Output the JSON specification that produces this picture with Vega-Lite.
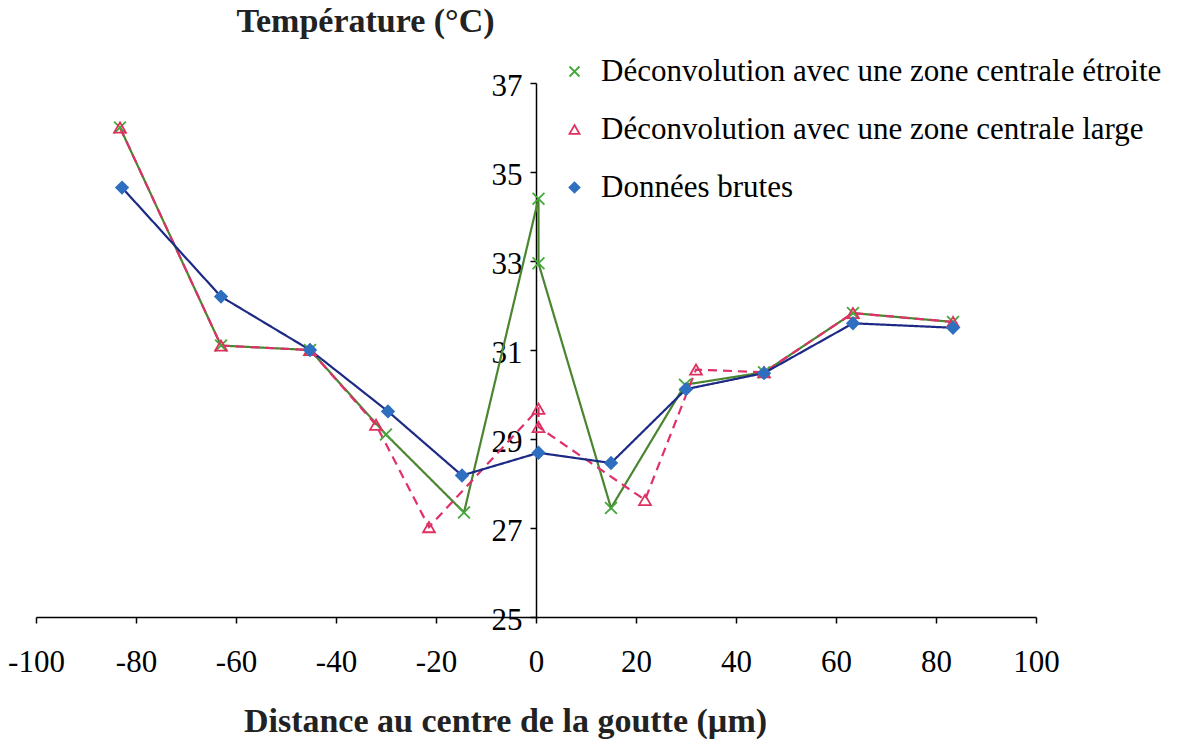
{
  "$schema": "https://vega.github.io/schema/vega-lite/v6.json",
  "autosize": "none",
  "width": 1000,
  "height": 534,
  "padding": {"left": 36, "top": 83, "right": 154, "bottom": 128},
  "background": "white",
  "config": {
    "font": "Liberation Serif",
    "view": {"stroke": null},
    "axis": {"grid": false, "domainColor": "black", "tickColor": "black", "labelColor": "black", "titleColor": "#222222", "labelFont": "Liberation Serif", "titleFont": "Liberation Serif"}
  },
  "data": {
    "values": [
      {"s": "Déconvolution avec une zone centrale étroite", "i": 1, "x": -83.2, "y": 36.0},
      {"s": "Déconvolution avec une zone centrale étroite", "i": 2, "x": -63, "y": 31.1},
      {"s": "Déconvolution avec une zone centrale étroite", "i": 3, "x": -45.2, "y": 31.0},
      {"s": "Déconvolution avec une zone centrale étroite", "i": 4, "x": -30, "y": 29.1},
      {"s": "Déconvolution avec une zone centrale étroite", "i": 5, "x": -14.4, "y": 27.35},
      {"s": "Déconvolution avec une zone centrale étroite", "i": 6, "x": 0.5, "y": 34.4},
      {"s": "Déconvolution avec une zone centrale étroite", "i": 7, "x": 0.5, "y": 32.95},
      {"s": "Déconvolution avec une zone centrale étroite", "i": 8, "x": 15, "y": 27.45},
      {"s": "Déconvolution avec une zone centrale étroite", "i": 9, "x": 29.8, "y": 30.22},
      {"s": "Déconvolution avec une zone centrale étroite", "i": 10, "x": 45.6, "y": 30.5},
      {"s": "Déconvolution avec une zone centrale étroite", "i": 11, "x": 63.4, "y": 31.83},
      {"s": "Déconvolution avec une zone centrale étroite", "i": 12, "x": 83.4, "y": 31.63},
      {"s": "Déconvolution avec une zone centrale large", "i": 1, "x": -83.2, "y": 36.0},
      {"s": "Déconvolution avec une zone centrale large", "i": 2, "x": -63, "y": 31.1},
      {"s": "Déconvolution avec une zone centrale large", "i": 3, "x": -45.2, "y": 31.0},
      {"s": "Déconvolution avec une zone centrale large", "i": 4, "x": -32, "y": 29.32},
      {"s": "Déconvolution avec une zone centrale large", "i": 5, "x": -21.4, "y": 27.02},
      {"s": "Déconvolution avec une zone centrale large", "i": 6, "x": 0.5, "y": 29.68},
      {"s": "Déconvolution avec une zone centrale large", "i": 7, "x": 0.5, "y": 29.27},
      {"s": "Déconvolution avec une zone centrale large", "i": 8, "x": 21.8, "y": 27.63},
      {"s": "Déconvolution avec une zone centrale large", "i": 9, "x": 32, "y": 30.56},
      {"s": "Déconvolution avec une zone centrale large", "i": 10, "x": 45.6, "y": 30.5},
      {"s": "Déconvolution avec une zone centrale large", "i": 11, "x": 63.4, "y": 31.83},
      {"s": "Déconvolution avec une zone centrale large", "i": 12, "x": 83.4, "y": 31.63},
      {"s": "Données brutes", "i": 1, "x": -82.8, "y": 34.65},
      {"s": "Données brutes", "i": 2, "x": -63, "y": 32.2},
      {"s": "Données brutes", "i": 3, "x": -45.2, "y": 31.0},
      {"s": "Données brutes", "i": 4, "x": -29.6, "y": 29.62},
      {"s": "Données brutes", "i": 5, "x": -14.8, "y": 28.18},
      {"s": "Données brutes", "i": 6, "x": 0.5, "y": 28.69},
      {"s": "Données brutes", "i": 7, "x": 15, "y": 28.46},
      {"s": "Données brutes", "i": 8, "x": 30, "y": 30.12},
      {"s": "Données brutes", "i": 9, "x": 45.6, "y": 30.48},
      {"s": "Données brutes", "i": 10, "x": 63.4, "y": 31.6},
      {"s": "Données brutes", "i": 11, "x": 83.4, "y": 31.5}
    ]
  },
  "encoding": {
    "x": {
      "field": "x", "type": "quantitative",
      "scale": {"domain": [-100, 100], "nice": false, "zero": false},
      "axis": {
        "values": [-100, -80, -60, -40, -20, 0, 20, 40, 60, 80, 100],
        "labelExpr": "'' + datum.value",
        "title": "Distance au centre de la goutte (µm)",
        "titleFontSize": 34, "titleFontWeight": "bold",
        "titleX": 469, "titleY": 114, "titleAlign": "center", "titleBaseline": "alphabetic",
        "labelFontSize": 31, "labelPadding": 24, "tickSize": 6, "tickWidth": 1.5, "domainWidth": 1.5,
        "labelFlush": false, "labelOverlap": false
      }
    },
    "y": {
      "field": "y", "type": "quantitative",
      "scale": {"domain": [25, 37], "nice": false, "zero": false},
      "axis": {
        "orient": "left", "offset": -500,
        "values": [25, 27, 29, 31, 33, 35, 37],
        "title": "Température (°C)",
        "titleAngle": 0, "titleX": -171, "titleY": -52, "titleAlign": "center", "titleBaseline": "alphabetic",
        "titleFontSize": 34, "titleFontWeight": "bold",
        "labelFontSize": 31, "labelPadding": 8, "labelOffset": 3, "tickSize": 6, "tickWidth": 1.5, "domainWidth": 1.5,
        "labelOverlap": false
      }
    }
  },
  "layer": [
    {
      "mark": {"type": "line", "strokeWidth": 2.2},
      "encoding": {
        "color": {
          "field": "s", "type": "nominal",
          "scale": {"domain": ["Données brutes", "Déconvolution avec une zone centrale large", "Déconvolution avec une zone centrale étroite"], "range": ["#1c2a86", "#e0306a", "#4a8530"]},
          "legend": null
        },
        "strokeDash": {
          "field": "s", "type": "nominal",
          "scale": {"domain": ["Données brutes", "Déconvolution avec une zone centrale large", "Déconvolution avec une zone centrale étroite"], "range": [[1, 0], [9, 6], [1, 0]]},
          "legend": null
        },
        "order": {"field": "i", "type": "quantitative"}
      }
    },
    {
      "mark": {"type": "point", "size": 140, "strokeWidth": 1.8, "opacity": 1},
      "encoding": {
        "shape": {
          "field": "s", "type": "nominal",
          "scale": {"domain": ["Déconvolution avec une zone centrale étroite", "Déconvolution avec une zone centrale large", "Données brutes"], "range": ["M-1,-1L1,1M1,-1L-1,1", "triangle-up", "diamond"]},
          "legend": {"title": null, "orient": "none", "legendX": 523, "legendY": -27, "labelFontSize": 31, "labelFont": "Liberation Serif", "labelColor": "black", "symbolSize": 100, "rowPadding": 26, "labelOffset": 11, "padding": 0, "symbolStrokeWidth": 1.8, "labelLimit": 0}
        },
        "stroke": {
          "field": "s", "type": "nominal",
          "scale": {"domain": ["Déconvolution avec une zone centrale étroite", "Déconvolution avec une zone centrale large", "Données brutes"], "range": ["#45a83a", "#e0305f", "#2f6fc0"]},
          "legend": {"title": null, "orient": "none", "legendX": 523, "legendY": -27, "labelFontSize": 31, "labelFont": "Liberation Serif", "labelColor": "black", "symbolSize": 100, "rowPadding": 26, "labelOffset": 11, "padding": 0, "symbolStrokeWidth": 1.8, "labelLimit": 0}
        },
        "fill": {
          "field": "s", "type": "nominal",
          "scale": {"domain": ["Déconvolution avec une zone centrale étroite", "Déconvolution avec une zone centrale large", "Données brutes"], "range": ["transparent", "transparent", "#2f6fc0"]},
          "legend": {"title": null, "orient": "none", "legendX": 523, "legendY": -27, "labelFontSize": 31, "labelFont": "Liberation Serif", "labelColor": "black", "symbolSize": 100, "rowPadding": 26, "labelOffset": 11, "padding": 0, "symbolStrokeWidth": 1.8, "labelLimit": 0}
        }
      }
    }
  ]
}
